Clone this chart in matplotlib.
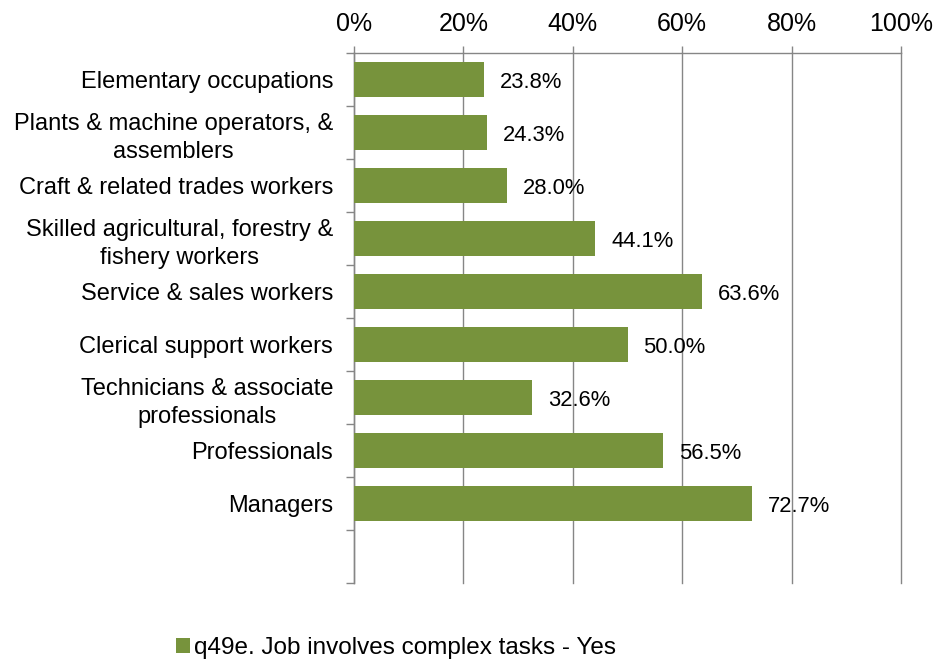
import numpy as np
import matplotlib
matplotlib.use('Agg')
import matplotlib.pyplot as plt
from matplotlib.patches import Patch
from matplotlib.ticker import FixedLocator, PercentFormatter

plt.rcParams['font.family'] = ['Liberation Sans', 'DejaVu Sans']
plt.rcParams['font.size'] = 17

categories = [
    'Elementary occupations',
    'Plants & machine operators, &\nassemblers',
    'Craft & related trades workers',
    'Skilled agricultural, forestry &\nfishery workers',
    'Service & sales workers',
    'Clerical support workers',
    'Technicians & associate\nprofessionals',
    'Professionals',
    'Managers',
]
values = [23.8, 24.3, 28.0, 44.1, 63.6, 50.0, 32.6, 56.5, 72.7]
x_ticks = [0, 20, 40, 60, 80, 100]
series_name = 'q49e. Job involves complex tasks - Yes'

BAR = '#77933C'
GRID = '#868686'

fig = plt.figure(figsize=(9.33, 6.6), dpi=100)
ax = fig.add_axes([354 / 933, 1 - 583 / 660, 547 / 933, 530 / 660])

pos = np.arange(len(categories))
ax.barh(pos, values, height=0.67, color=BAR, zorder=3)
for p, v in zip(pos, values):
    ax.text(v + 2.9, p + 0.05, f'{v:.1f}%', va='center', ha='left', fontsize=15.8, zorder=4)

# one empty slot below the last category
ax.set_ylim(len(categories) + 0.5, -0.5)
ax.set_xlim(0, 100)

ax.set_yticks(pos)
ax.set_yticklabels(categories, multialignment='center', fontsize=17, linespacing=1.35)
ax.yaxis.set_minor_locator(FixedLocator(np.arange(-0.5, len(categories) + 1, 1)))
ax.tick_params(axis='y', which='major', length=0, pad=15)
ax.tick_params(axis='y', which='minor', length=6, color=GRID, width=1)

ax.xaxis.tick_top()
ax.set_xticks(x_ticks)
ax.xaxis.set_major_formatter(PercentFormatter(decimals=0))
ax.tick_params(axis='x', which='major', length=5, color=GRID, width=1, pad=7, labelsize=18)
ax.grid(axis='x', color=GRID, linewidth=1, zorder=0)
for gl in ax.get_xgridlines():
    gl.set_clip_on(False)

for side in ['right', 'bottom']:
    ax.spines[side].set_visible(False)
for side in ['left', 'top']:
    ax.spines[side].set_color(GRID)
    ax.spines[side].set_linewidth(1)

handle = Patch(facecolor=BAR, edgecolor='none', label=series_name)
fig.legend(handles=[handle], loc='center', bbox_to_anchor=(396 / 933, 1 - 648 / 660),
           frameon=False, fontsize=17.5, handlelength=0.55, handleheight=0.55,
           handletextpad=0.15)

fig.savefig('out.png', dpi=100, facecolor='white')
